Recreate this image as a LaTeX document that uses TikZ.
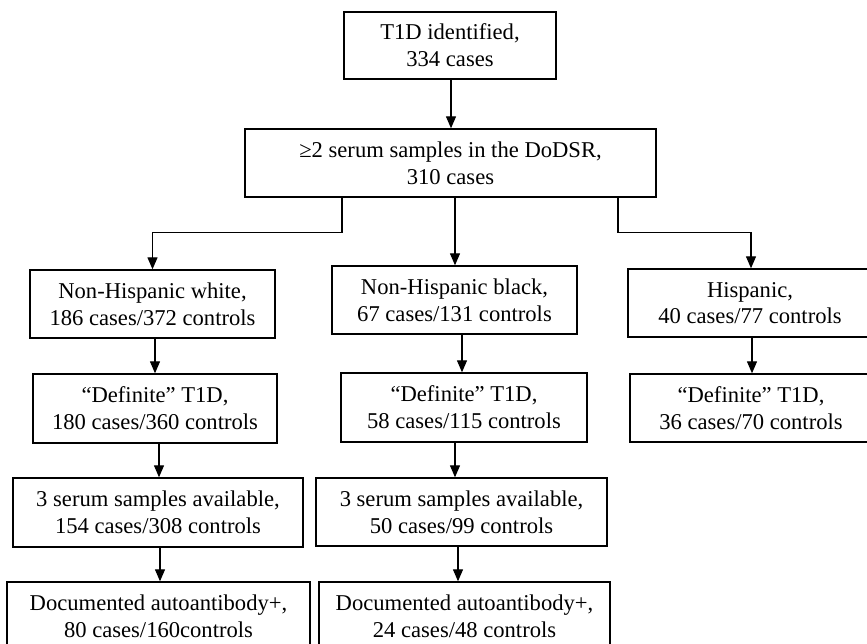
\documentclass[tikz,border=0pt]{standalone}
\usepackage{fontspec}
\setmainfont{Liberation Serif}
\usetikzlibrary{arrows.meta}
\begin{document}
\begin{tikzpicture}[x=1bp,y=-1bp,
  box/.style={draw=black,line width=1.4bp,align=center,inner sep=0pt,
    font=\fontsize{22.6bp}{26.7bp}\selectfont},
  arr/.style={line width=1.3bp,-{Triangle[length=12bp,width=10bp]}}]
\clip (0,0) rectangle (867,644);
\fill[white] (0,0) rectangle (867,644);
\node[box,minimum width=212bp,minimum height=67bp] (b1) at (450,45.5) {T1D identified,\\334 cases};
\node[box,minimum width=411bp,minimum height=68bp] (b2) at (450.5,163) {≥2 serum samples in the DoDSR,\\310 cases};
\node[box,minimum width=245bp,minimum height=68bp] (nhw) at (152.5,304) {Non-Hispanic white,\\186 cases/372 controls};
\node[box,minimum width=245bp,minimum height=68bp] (nhb) at (454.5,300) {Non-Hispanic black,\\67 cases/131 controls};
\node[box,minimum width=244bp,minimum height=68bp] (his) at (750,303) {Hispanic,\\40 cases/77 controls};
\node[box,minimum width=244bp,minimum height=69bp] (defw) at (155,408.5) {“Definite” T1D,\\180 cases/360 controls};
\node[box,minimum width=246bp,minimum height=69bp] (defb) at (464,407.5) {“Definite” T1D,\\58 cases/115 controls};
\node[box,minimum width=242bp,minimum height=68bp] (defh) at (751,408) {“Definite” T1D,\\36 cases/70 controls};
\node[box,minimum width=290bp,minimum height=69bp] (serw) at (158,512.5) {3 serum samples available,\\154 cases/308 controls};
\node[box,minimum width=291bp,minimum height=68bp] (serb) at (461.5,512) {3 serum samples available,\\50 cases/99 controls};
\node[box,minimum width=303bp,minimum height=68bp] (docw) at (158.5,616) {Documented autoantibody+,\\80 cases/160controls};
\node[box,minimum width=291bp,minimum height=68bp] (docb) at (464.5,616) {Documented autoantibody+,\\24 cases/48 controls};
\draw[arr] ([xshift=1bp]b1.south) -- ([xshift=1bp]b1.south |- b2.north);
\draw[arr] ([xshift=-108.5bp]b2.south) -- ++(0,35) -| (nhw.north);
\draw[arr] ([xshift=4.5bp]b2.south) -- ([xshift=4.5bp]b2.south |- nhb.north);
\draw[arr] ([xshift=167.5bp]b2.south) -- ++(0,35) -| ([xshift=1bp]his.north);
\draw[arr] ([xshift=2.5bp]nhw.south) -- ([xshift=2.5bp]nhw.south |- defw.north);
\draw[arr] ([xshift=7.5bp]nhb.south) -- ([xshift=7.5bp]nhb.south |- defb.north);
\draw[arr] ([xshift=2bp]his.south) -- ([xshift=2bp]his.south |- defh.north);
\draw[arr] ([xshift=4bp]defw.south) -- ([xshift=4bp]defw.south |- serw.north);
\draw[arr] ([xshift=-9bp]defb.south) -- ([xshift=-9bp]defb.south |- serb.north);
\draw[arr] ([xshift=2bp]serw.south) -- ([xshift=2bp]serw.south |- docw.north);
\draw[arr] ([xshift=-3.5bp]serb.south) -- ([xshift=-3.5bp]serb.south |- docb.north);
\end{tikzpicture}
\end{document}
